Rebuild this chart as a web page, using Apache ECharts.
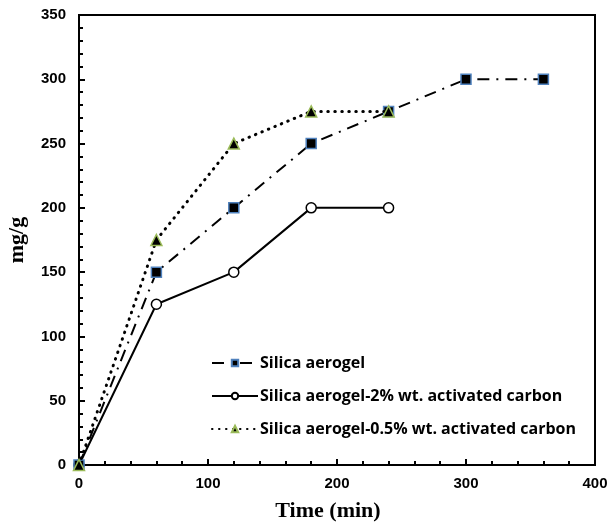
<!DOCTYPE html>
<html>
<head>
<meta charset="utf-8">
<script src="https://cdn.jsdelivr.net/npm/echarts@6/dist/echarts.min.js"></script>
<style>
  html, body { margin: 0; padding: 0; background: #fff; }
  #chart { width: 611px; height: 526px; }
</style>
</head>
<body>
<div id="chart"></div>
<script>
// Adsorption capacity (mg/g) over contact time (min)
const timeAerogel = [0, 60, 120, 180, 240, 300, 360];
const aerogel = [0, 150, 200, 250, 275, 300, 300];

const timeAc2 = [0, 60, 120, 180, 240];
const aerogelAc2 = [0, 125, 150, 200, 200];

const timeAc05 = [0, 60, 120, 180, 240];
const aerogelAc05 = [0, 175, 250, 275, 275];

const seriesNames = [
  'Silica aerogel',
  'Silica aerogel-2% wt. activated carbon',
  'Silica aerogel-0.5% wt. activated carbon'
];

const pairs = (xs, ys) => xs.map((x, i) => [x, ys[i]]);

const chart = echarts.init(document.getElementById('chart'), null, { renderer: 'canvas' });

const tickFont = { fontFamily: 'Liberation Sans', fontWeight: 'bold', fontSize: 15, color: '#000' };
const nameFont = { fontFamily: 'Liberation Serif', fontWeight: 'bold', fontSize: 22, color: '#000' };

chart.setOption({
  animation: false,
  backgroundColor: '#fff',
  grid: {
    left: 79, right: 16, top: 15, bottom: 61,
    containLabel: false, outerBoundsMode: 'none',
    show: true, borderColor: '#000', borderWidth: 2
  },
  legend: {
    left: 206, top: 350,
    orient: 'vertical',
    itemWidth: 46, itemHeight: 8, itemGap: 17,
    textStyle: { fontFamily: 'Open Sans', fontWeight: 'bold', fontSize: 16, color: '#000', padding: [0, 0, 0, -3] },
    data: seriesNames
  },
  xAxis: {
    type: 'value', min: 0, max: 400, interval: 100,
    name: 'Time (min)', nameLocation: 'middle', nameGap: 35,
    nameTextStyle: Object.assign({ padding: [0, 18, 0, 0] }, nameFont),
    axisLine: { show: true, lineStyle: { color: '#000', width: 2 } },
    axisTick: { show: true, inside: true, length: 6, lineStyle: { color: '#000', width: 2 } },
    minorTick: { show: true, splitNumber: 5, length: 4, lineStyle: { color: '#000', width: 2 } },
    axisLabel: Object.assign({ margin: 11 }, tickFont),
    splitLine: { show: false }
  },
  yAxis: {
    type: 'value', min: 0, max: 350, interval: 50,
    name: 'mg/g', nameLocation: 'middle', nameGap: 51,
    nameTextStyle: nameFont,
    axisLine: { show: true, lineStyle: { color: '#000', width: 2 } },
    axisTick: { show: true, inside: true, length: 6, lineStyle: { color: '#000', width: 2 } },
    minorTick: { show: true, splitNumber: 5, length: 4, lineStyle: { color: '#000', width: 2 } },
    axisLabel: Object.assign({ margin: 13 }, tickFont),
    splitLine: { show: false }
  },
  series: [
    {
      name: seriesNames[0], type: 'line',
      data: pairs(timeAerogel, aerogel),
      symbol: 'rect', symbolSize: 10,
      itemStyle: { color: '#000', borderColor: '#4f81bd', borderWidth: 1.5 },
      lineStyle: { color: '#000', width: 2, type: [12, 7, 2, 7] },
      z: 3
    },
    {
      name: seriesNames[1], type: 'line',
      data: pairs(timeAc2, aerogelAc2),
      symbol: 'circle', symbolSize: 10,
      itemStyle: { color: '#fff', borderColor: '#000', borderWidth: 1.5 },
      lineStyle: { color: '#000', width: 2, type: 'solid' },
      z: 2
    },
    {
      name: seriesNames[2], type: 'line',
      data: pairs(timeAc05, aerogelAc05),
      symbol: 'triangle', symbolSize: 11,
      itemStyle: { color: '#000', borderColor: '#9bbb59', borderWidth: 1.5 },
      lineStyle: { color: '#000', width: 3, type: [0.5, 6.5], cap: 'round' },
      z: 4
    }
  ]
});
</script>
</body>
</html>
